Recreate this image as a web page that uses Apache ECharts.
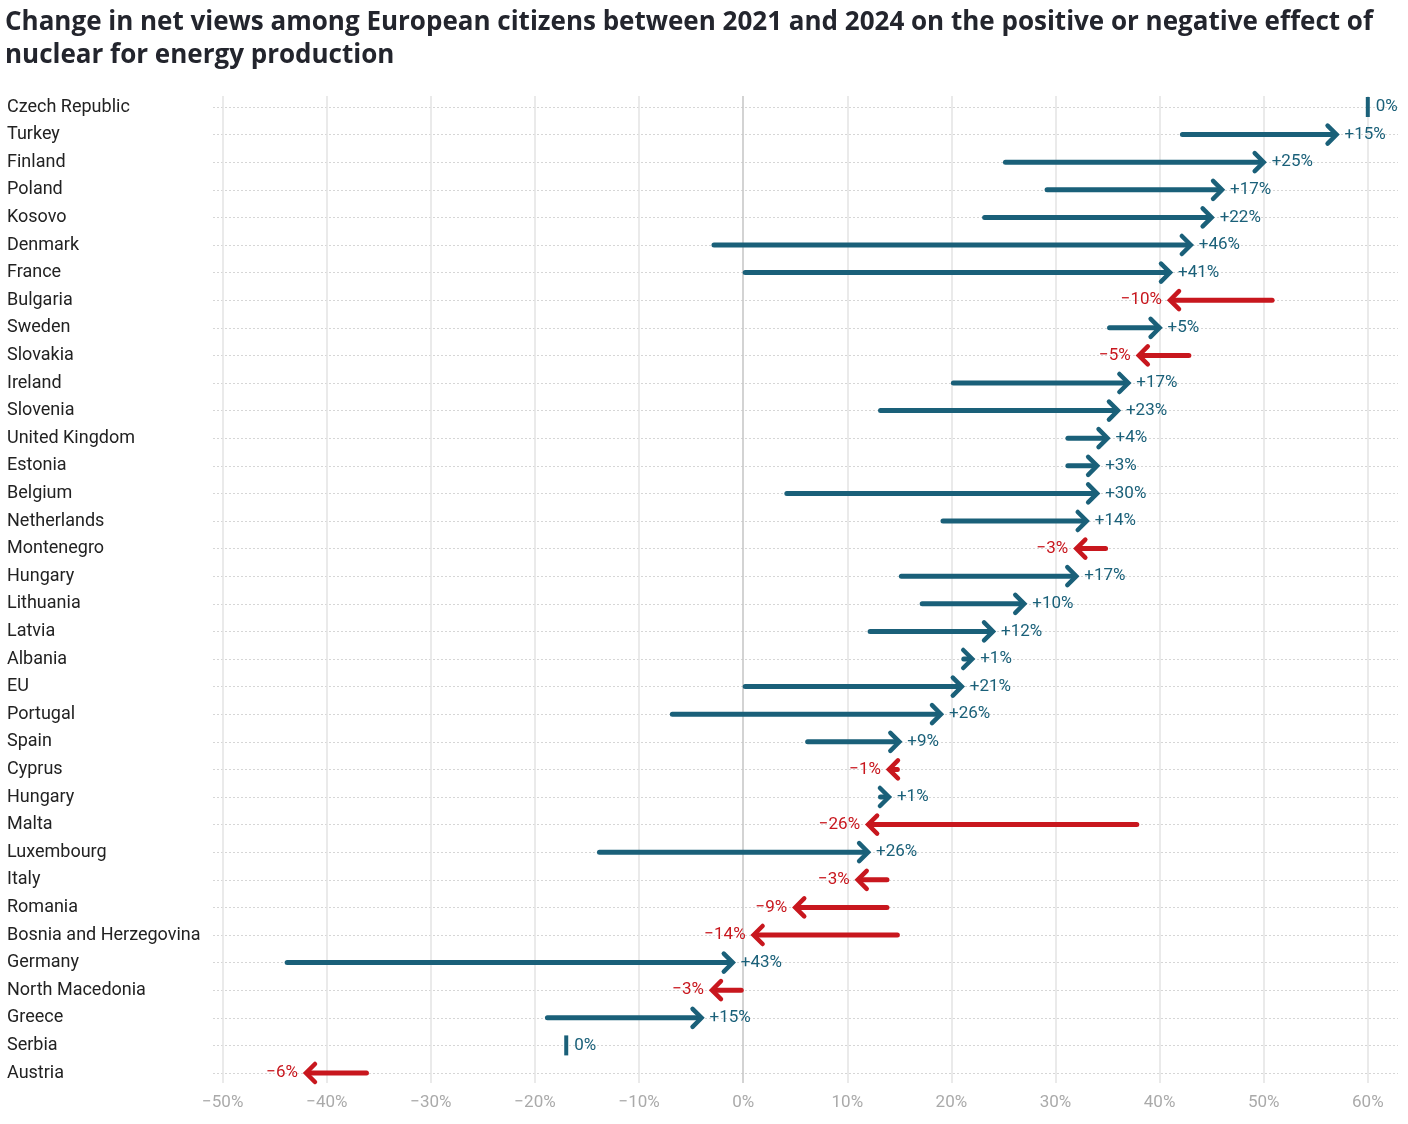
<!DOCTYPE html>
<html>
<head>
<meta charset="utf-8">
<script src="https://cdn.jsdelivr.net/npm/echarts@6/dist/echarts.min.js"></script>
<style>
html,body{margin:0;padding:0;background:#fff;}
#chart{width:1408px;height:1124px;}
</style>
</head>
<body>
<div id="chart"></div>
<script>
const countries = ["Czech Republic","Turkey","Finland","Poland","Kosovo","Denmark","France","Bulgaria","Sweden","Slovakia","Ireland","Slovenia","United Kingdom","Estonia","Belgium","Netherlands","Montenegro","Hungary","Lithuania","Latvia","Albania","EU","Portugal","Spain","Cyprus","Hungary","Malta","Luxembourg","Italy","Romania","Bosnia and Herzegovina","Germany","North Macedonia","Greece","Serbia","Austria"];
const views2021 = [60,42,25,29,23,-3,0,51,35,43,20,13,31,31,4,19,35,15,17,12,21,0,-7,6,15,13,38,-14,14,14,15,-44,0,-19,-17,-36];
const views2024 = [60,57,50,46,45,43,41,41,40,38,37,36,35,34,34,33,32,32,27,24,22,21,19,15,14,14,12,12,11,5,1,-1,-3,-4,-17,-42];
const xTicks = [-50,-40,-30,-20,-10,0,10,20,30,40,50,60];

const BLUE = '#1a6079';
const RED = '#c8171e';
const chart = echarts.init(document.getElementById('chart'));

const seriesData = countries.map((c, i) => [views2021[i], views2024[i], i]);
const gridColors = xTicks.map(v => v === 0 ? '#c4c4c4' : '#e3e3e3');

function fmtPct(v) {
  const s = Math.abs(v) + '%';
  if (v > 0) return '+' + s;
  if (v < 0) return '\u2212' + s;
  return s;
}

const option = {
  animation: false,
  backgroundColor: '#fff',
  title: {
    text: 'Change in net views among European citizens between 2021 and 2024 on the positive or negative effect of\nnuclear for energy production',
    left: 0,
    top: 1,
    textStyle: {fontFamily: 'Open Sans', fontSize: 26, fontWeight: 'bold', color: '#23252d', lineHeight: 33}
  },
  grid: [
    {left: 222.7, right: 40.2, top: 96, bottom: 41},
    {left: 213, right: 10, top: 107, bottom: 51},
    {left: 222.7, right: 40.2, top: 107, bottom: 51}
  ],
  xAxis: [
    {
      gridIndex: 0, type: 'value', min: xTicks[0], max: xTicks[xTicks.length - 1], interval: 10,
      axisLine: {show: false}, axisTick: {show: false},
      splitLine: {show: true, lineStyle: {color: gridColors, width: 1.5}},
      axisLabel: {margin: 11, color: '#aaa', fontFamily: 'Roboto', fontSize: 17,
        formatter: v => (v < 0 ? '\u2212' + Math.abs(v) : v) + '%'}
    },
    {gridIndex: 1, type: 'value', min: 0, max: 1, show: false},
    {gridIndex: 2, type: 'value', min: xTicks[0], max: xTicks[xTicks.length - 1], show: false}
  ],
  yAxis: [
    {gridIndex: 0, type: 'value', min: 0, max: 1, show: false},
    {
      gridIndex: 1, type: 'category', data: countries, inverse: true, boundaryGap: false,
      axisLine: {show: false}, axisTick: {show: false},
      splitLine: {show: true, lineStyle: {color: '#d6d6d6', width: 1, type: [2, 2]}},
      axisLabel: {align: 'left', margin: 206, color: '#222', fontFamily: 'Roboto', fontSize: 18, interval: 0}
    },
    {gridIndex: 2, type: 'category', data: countries, inverse: true, boundaryGap: false, show: false}
  ],
  series: [{
    type: 'custom',
    xAxisIndex: 2,
    yAxisIndex: 2,
    data: seriesData,
    encode: {x: [0, 1], y: 2},
    clip: false,
    renderItem: function (params, api) {
      const s = api.value(0), e = api.value(1), row = api.value(2);
      const p0 = api.coord([s, row]);
      const p1 = api.coord([e, row]);
      const d = e - s;
      const color = d >= 0 ? BLUE : RED;
      const children = [];
      const font = '17px Roboto';
      if (d === 0) {
        children.push({type: 'rect', shape: {x: p1[0] - 2, y: p1[1] - 10, width: 4, height: 20}, style: {fill: color}});
        children.push({type: 'text', style: {text: fmtPct(d), x: p1[0] + 8, y: p1[1], align: 'left', verticalAlign: 'middle', fill: color, font: font}});
      } else {
        const dir = d > 0 ? 1 : -1;
        children.push({type: 'line', shape: {x1: p0[0] + dir * 2, y1: p0[1], x2: p1[0] - dir * 2, y2: p1[1]},
          style: {stroke: color, lineWidth: 5, lineCap: 'round'}});
        children.push({type: 'polyline', shape: {points: [[p1[0] - dir * 9, p1[1] - 9], [p1[0], p1[1]], [p1[0] - dir * 9, p1[1] + 9]]},
          style: {stroke: color, fill: null, lineWidth: 4.5, lineCap: 'round', lineJoin: 'miter'}});
        children.push({type: 'text', style: {text: fmtPct(d), x: p1[0] + dir * 8, y: p1[1], align: dir > 0 ? 'left' : 'right', verticalAlign: 'middle', fill: color, font: font}});
      }
      return {type: 'group', children: children};
    }
  }]
};
chart.setOption(option);
</script>
</body>
</html>
